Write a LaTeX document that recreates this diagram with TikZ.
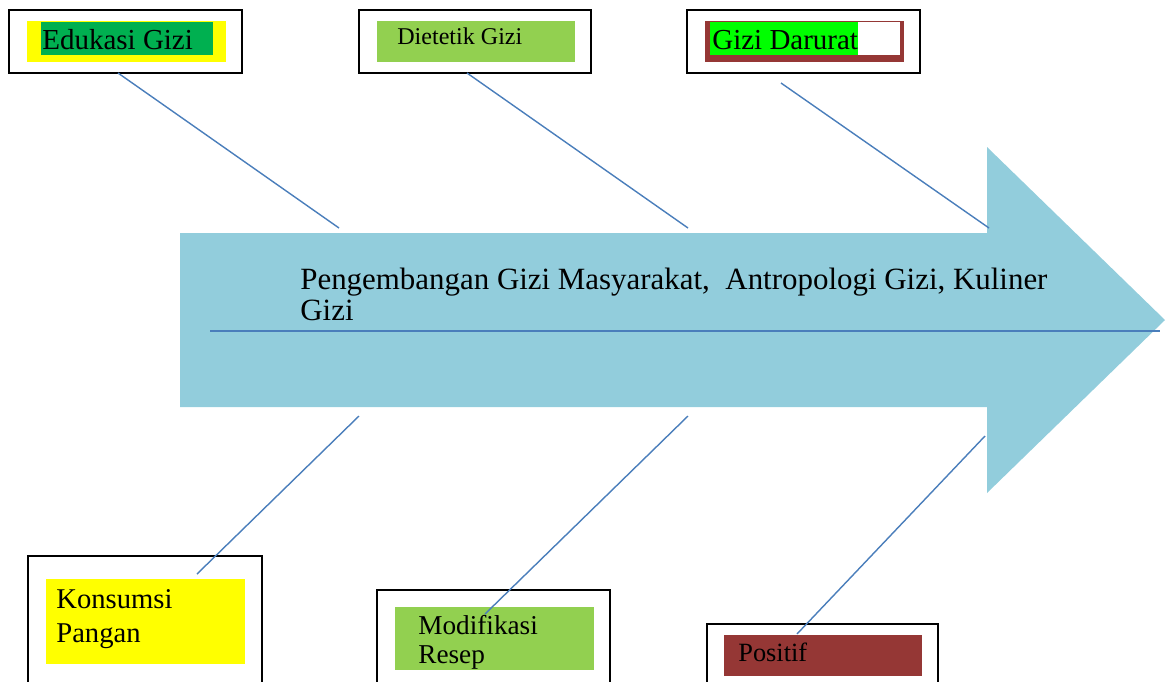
\documentclass[tikz,border=0pt]{standalone}
\usepackage{fontspec}
\setmainfont{Liberation Serif}
\definecolor{arrowblue}{HTML}{92CDDC}
\definecolor{bonecol}{HTML}{4A7EBB}
\definecolor{hlyellow}{HTML}{FFFF00}
\definecolor{hlgreen}{HTML}{00B050}
\definecolor{leafgreen}{HTML}{92D050}
\definecolor{brickred}{HTML}{953735}
\definecolor{limegreen}{HTML}{00FF00}
\begin{document}
\begin{tikzpicture}[x=0.02cm,y=-0.02cm,
  framebox/.style={draw=black,line width=0.7pt,fill=white},
  bone/.style={draw=bonecol,line width=0.8pt},
  label/.style={inner sep=0pt,anchor=base west,align=left,text=black}]
\useasboundingbox (0,0) rectangle (1171,681);
\clip (0,0) rectangle (1171,681);

% fish spine: big arrow
\fill[arrowblue] (180,233) -- (987,233) -- (987,147) -- (1165,320)
  -- (987,493) -- (987,407) -- (180,407) -- cycle;
\coordinate (spineL) at (210,331);
\coordinate (spineR) at (1160,331);
\draw[bone] (spineL) -- (spineR);
% multi-line labels sit on the baseline of their last line
\node[label,font=\fontsize{17.6}{17.6}\selectfont] (main) at (300,320)
  {Pengembangan Gizi Masyarakat,\ \ Antropologi Gizi, Kuliner\\Gizi};

% upper boxes
\path[framebox] (9,10) rectangle (242,73);
\fill[hlyellow] (27,21) rectangle (226,62);
\fill[hlgreen] (41,22) rectangle (213,55);
\node[label,font=\fontsize{16.5}{18}\selectfont] (edut) at (42,49) {Edukasi Gizi};

\path[framebox] (359,10) rectangle (591,73);
\fill[leafgreen] (377,21) rectangle (575,62);
\node[label,font=\fontsize{13.7}{16}\selectfont] (diet) at (397,44) {Dietetik Gizi};

\path[framebox] (687,10) rectangle (920,73);
\fill[brickred] (705,21) rectangle (904,62);
\fill[white] (710,22) rectangle (900,55);
\fill[limegreen] (710,22) rectangle (858,55);
\node[label,font=\fontsize{16.5}{18}\selectfont] (darurat) at (712,49) {Gizi Darurat};

% lower boxes
\path[framebox] (28,556) rectangle (262,700);
\fill[hlyellow] (46,579) rectangle (245,664);
\node[label,font=\fontsize{16.3}{19.3}\selectfont] (konsumsi) at (56,642) {Konsumsi\\Pangan};

\path[framebox] (377,590) rectangle (610,700);
\fill[leafgreen] (395,607) rectangle (594,670);
\begin{scope}
  \clip (395,607) rectangle (594,668);
  \node[label,font=\fontsize{15.5}{16}\selectfont] (resep) at (418,663) {Modifikasi\\Resep};
\end{scope}

\path[framebox] (707,624) rectangle (938,700);
\fill[brickred] (724,635) rectangle (922,676);
\node[label,font=\fontsize{15}{17}\selectfont] (positif) at (738,661) {Positif};

% ribs
\coordinate (r1a) at (118,73);  \coordinate (r1b) at (339,228);
\coordinate (r2a) at (467,73);  \coordinate (r2b) at (688,228);
\coordinate (r3a) at (781,83);  \coordinate (r3b) at (989,228);
\coordinate (r4a) at (359,416); \coordinate (r4b) at (197,574);
\coordinate (r5a) at (688,416); \coordinate (r5b) at (485,614);
\coordinate (r6a) at (985,436); \coordinate (r6b) at (797,634);
\foreach \i in {1,...,6} \draw[bone] (r\i a) -- (r\i b);
\end{tikzpicture}
\end{document}
